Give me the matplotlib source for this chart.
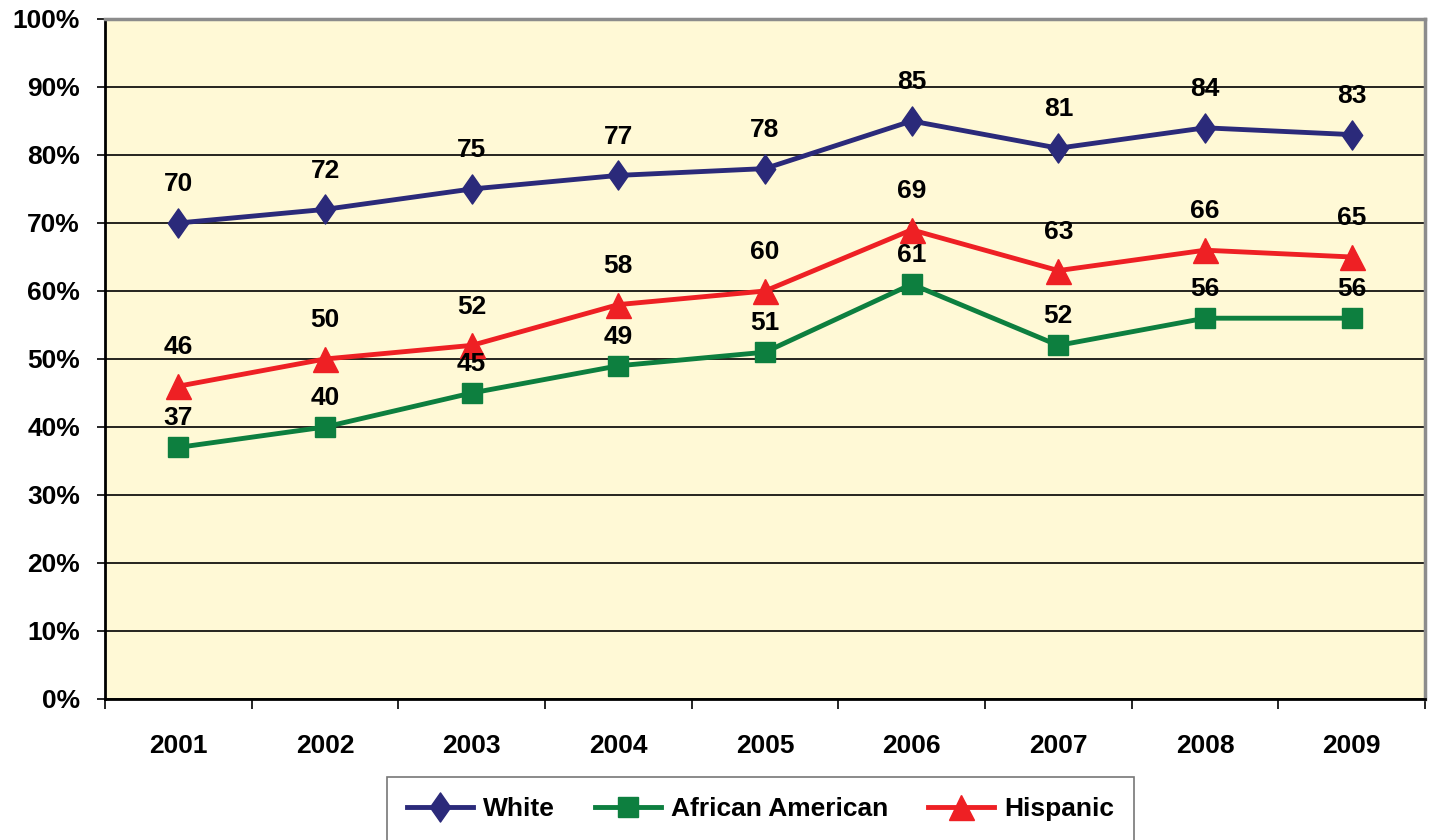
import matplotlib
matplotlib.use("Agg")
import matplotlib.pyplot as plt
from matplotlib.path import Path
from matplotlib.ticker import FixedLocator, FuncFormatter

years = ["2001", "2002", "2003", "2004", "2005", "2006", "2007", "2008", "2009"]
white = [70, 72, 75, 77, 78, 85, 81, 84, 83]
african_american = [37, 40, 45, 49, 51, 61, 52, 56, 56]
hispanic = [46, 50, 52, 58, 60, 69, 63, 66, 65]
y_ticks = [0, 10, 20, 30, 40, 50, 60, 70, 80, 90, 100]

plt.rcParams['font.family'] = ['Liberation Sans', 'DejaVu Sans']
plt.rcParams['font.weight'] = 'bold'

fig = plt.figure(figsize=(14.29, 8.40), dpi=100)
ax = fig.add_axes([105/1429, 141/840, 1320/1429, 680/840])
ax.set_facecolor('#FFF9D6')

x = list(range(len(years)))
tall_diamond = Path([(0, 1), (0.7, 0), (0, -1), (-0.7, 0), (0, 1)],
                    [Path.MOVETO, Path.LINETO, Path.LINETO, Path.LINETO, Path.CLOSEPOLY])

series = [
    ("White", white, '#2B2A7A', tall_diamond, 21, 28),
    ("African American", african_american, '#0D7F3F', 's', 15, 21),
    ("Hispanic", hispanic, '#EE2024', '^', 18, 28),
]
for name, vals, col, mk, ms, off in series:
    ax.plot(x, vals, color=col, lw=3.5, marker=mk, markersize=ms, label=name,
            zorder=3, solid_joinstyle='miter')
    for xi, v in zip(x, vals):
        ax.annotate(str(v), (xi, v), xytext=(0, off), textcoords='offset points',
                    ha='center', va='center', fontsize=19, fontweight='bold',
                    color='black', zorder=4)

ax.set_xlim(-0.5, len(years) - 0.5)
ax.set_ylim(0, 100)
ax.yaxis.set_major_locator(FixedLocator(y_ticks))
ax.yaxis.set_major_formatter(FuncFormatter(lambda v, p: f"{int(v)}%"))
ax.grid(axis='y', color='black', lw=1.2, zorder=1)

ax.set_xticks(x)
ax.set_xticklabels(years)
ax.set_xticks([i - 0.5 for i in range(len(years) + 1)], minor=True)
ax.tick_params(axis='x', which='major', length=0, pad=25)
ax.tick_params(axis='x', which='minor', length=7, width=1.2, direction='out', color='black')
ax.tick_params(axis='y', length=6, width=1.2, direction='out', pad=12)
for lab in ax.get_xticklabels():
    lab.set_fontsize(19)
    lab.set_fontweight('bold')
for lab in ax.get_yticklabels():
    lab.set_fontsize(19)
    lab.set_fontweight('bold')

for s in ['left', 'bottom']:
    ax.spines[s].set_color('black')
    ax.spines[s].set_linewidth(2)
for s in ['top', 'right']:
    ax.spines[s].set_color('#8C8C8C')
    ax.spines[s].set_linewidth(2.5)

leg = fig.legend(loc='upper left', bbox_to_anchor=(387/1429, 63/840), ncol=3,
                 frameon=True, fancybox=False, edgecolor='#555555', borderaxespad=0,
                 prop={'weight': 'bold', 'size': 19},
                 handlelength=2.5, borderpad=0.75, columnspacing=1.5, handletextpad=0.4)
leg.get_frame().set_linewidth(1.2)

fig.savefig("out.png", dpi=100)
